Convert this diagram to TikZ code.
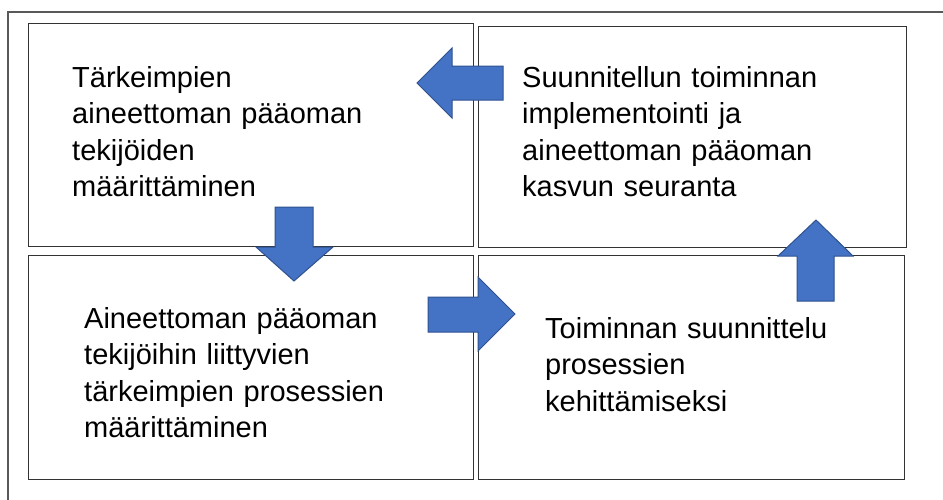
\documentclass[tikz,border=0pt]{standalone}
\usepackage{fontspec}
\setmainfont{Liberation Sans}
\begin{document}
\begin{tikzpicture}[x=1pt,y=-1pt,
  frameline/.style={draw=black!65,line width=1.2pt},
  panel/.style={draw=black!80,line width=1pt,fill=white,inner sep=0pt,anchor=north west},
  label/.style={anchor=base west,align=left,inner sep=0pt,text width=420pt,
    font=\fontsize{29}{36.5}\selectfont},
  blockarrow/.style={fill=arrowfill,draw=arrowedge,line width=1pt,line join=miter}]
\definecolor{arrowfill}{HTML}{4472C4}
\definecolor{arrowedge}{HTML}{2F528F}
\clip (0,0) rectangle (943,499);
\fill[white] (0,0) rectangle (943,499);
% outer frame, running past the right and lower edges
\draw[frameline] (8,12) rectangle (960,520);
% the four panels
\node[panel,minimum width=445pt,minimum height=223pt] (p1) at (28,23) {};
\node[panel,minimum width=428pt,minimum height=221pt] (p2) at (478,26) {};
\node[panel,minimum width=445pt,minimum height=224pt] (p3) at (28,255) {};
\node[panel,minimum width=426pt,minimum height=224pt] (p4) at (478,255) {};
% panel texts
\node[label] (t1) at (72,87) {Tärkeimpien\\aineettoman pääoman\\tekijöiden\\määrittäminen};
\node[label] (t2) at (522,87) {Suunnitellun toiminnan\\implementointi ja\\aineettoman pääoman\\kasvun seuranta};
\node[label] (t3) at (84,328) {Aineettoman pääoman\\tekijöihin liittyvien\\tärkeimpien prosessien\\määrittäminen};
\node[label] (t4) at (545,338) {Toiminnan suunnittelu\\prosessien\\kehittämiseksi};
% block arrows between the panels
\draw[blockarrow] (417,83) -- (452,48) -- (452,66) -- (503,66) -- (503,100) -- (452,100) -- (452,118) -- cycle;
\draw[blockarrow] (275,207) -- (313,207) -- (313,247) -- (333,247) -- (294,281) -- (256,247) -- (275,247) -- cycle;
\draw[blockarrow] (428,297) -- (478,297) -- (478,277) -- (515,314) -- (478,351) -- (478,332) -- (428,332) -- cycle;
\draw[blockarrow] (797,301) -- (797,256) -- (778,256) -- (816,220) -- (853,256) -- (834,256) -- (834,301) -- cycle;
\end{tikzpicture}
\end{document}
